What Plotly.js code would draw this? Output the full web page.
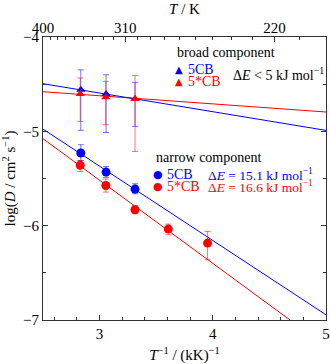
<!DOCTYPE html>
<html>
<head>
<meta charset="utf-8">
<script src="https://cdn.plot.ly/plotly-3.0.1.min.js"></script>
<style>html,body{margin:0;padding:0;background:#fff;}#chart{width:330px;height:364px;}</style>
</head>
<body>
<div id="chart"></div>
<script>
// ---- data ----
const broadX5CB = [2.834, 3.057, 3.313];
const broadY5CB = [-4.559, -4.605, -4.657];
const broadPlus5CB = [0.21, 0.205, 0.176];
const broadMinus5CB = [0.43, 0.407, 0.29];

const broadX5sCB = [2.829, 3.055, 3.313];
const broadY5sCB = [-4.605, -4.64, -4.657];
const broadPlus5sCB = [0.17, 0.17, 0.25];
const broadMinus5sCB = [0.29, 0.29, 0.556];

const narrowX5CB = [2.834, 3.057, 3.313];
const narrowY5CB = [-5.23, -5.432, -5.612];
const narrowPlus5CB = [0.088, 0.06, 0.056];
const narrowMinus5CB = [0.079, 0.057, 0.05];

const narrowX5sCB = [2.829, 3.055, 3.313, 3.607, 3.954];
const narrowY5sCB = [-5.36, -5.574, -5.831, -6.036, -6.185];
const narrowPlus5sCB = [0.051, 0.068, 0.045, 0.053, 0.124];
const narrowMinus5sCB = [0.065, 0.07, 0.043, 0.06, 0.177];

// fit lines (end values at x = 2.5 and x = 5)
const fitX = [2.5, 5];
const fitBroad5CB = [-4.495, -4.99];
const fitBroad5sCB = [-4.58, -4.795];
const fitNarrow5CB = [-4.976, -6.945];
const fitNarrow5sCB = [-5.078, -7.28];

// top temperature axis
const topTickK = [400, 310, 220];
const topMinorK = [390,380,370,360,350,340,330,320,300,290,280,270,260,250,240,230,210,200];

const BLUE = 'rgb(0,0,255)';
const RED = 'rgb(255,0,0)';
const BLUE_ERR = 'rgba(0,0,255,0.55)';
const RED_ERR = 'rgba(255,0,0,0.55)';
const FONT = 'Liberation Serif, Times New Roman, serif';

function line(x, y, c) {
  return {x: x, y: y, mode: 'lines', type: 'scatter', line: {color: c, width: 1}, showlegend: false, hoverinfo: 'skip'};
}
function pts(x, y, p, m, c, ec, sym, sz) {
  return {x: x, y: y, mode: 'markers', type: 'scatter', showlegend: false,
    marker: {symbol: sym, size: sz, color: c},
    error_y: {type: 'data', symmetric: false, array: p, arrayminus: m, color: ec, thickness: 1, width: 3}};
}

const traces = [
  line(fitX, fitBroad5sCB, RED),
  line(fitX, fitBroad5CB, BLUE),
  line(fitX, fitNarrow5sCB, RED),
  line(fitX, fitNarrow5CB, BLUE),
  pts(broadX5CB, broadY5CB, broadPlus5CB, broadMinus5CB, BLUE, BLUE_ERR, 'triangle-up', 8),
  pts(broadX5sCB, broadY5sCB, broadPlus5sCB, broadMinus5sCB, RED, RED_ERR, 'triangle-up', 8),
  pts(narrowX5CB, narrowY5CB, narrowPlus5CB, narrowMinus5CB, BLUE, BLUE_ERR, 'circle', 9),
  pts(narrowX5sCB, narrowY5sCB, narrowPlus5sCB, narrowMinus5sCB, RED, RED_ERR, 'circle', 9),
  {x: [2.5, 5], y: [-4, -4], xaxis: 'x2', yaxis: 'y', mode: 'markers', marker: {opacity: 0}, showlegend: false, hoverinfo: 'skip'}
];

const L = 43, R = 326, T = 37, B = 320;
function px(x) { return (x - L) / (R - L); }
function py(y) { return (B - y) / (B - T); }

function ann(text, x, y, color, size, xa) {
  return {text: text, x: px(x), y: py(y), xref: 'paper', yref: 'paper', showarrow: false,
    xanchor: xa || 'left', yanchor: 'middle', font: {family: FONT, size: size || 14, color: color || '#000'}};
}
function sym(ch, x, y, color, size) {
  return {text: ch, x: px(x), y: py(y), xref: 'paper', yref: 'paper', showarrow: false,
    xanchor: 'center', yanchor: 'middle', font: {family: 'DejaVu Sans', size: size, color: color}};
}

const layout = {
  width: 330, height: 364,
  margin: {l: L, r: 330 - R, t: T, b: 364 - B, pad: 0},
  paper_bgcolor: '#fff', plot_bgcolor: '#fff',
  font: {family: FONT, size: 15, color: '#000'},
  showlegend: false,
  xaxis: {
    range: [2.5, 5], tickmode: 'linear', tick0: 3, dtick: 1,
    ticks: 'inside', ticklen: 5, tickcolor: '#333', tickwidth: 1,
    showline: true, linecolor: '#333', linewidth: 1, mirror: true,
    showgrid: false, zeroline: false,
    minor: {tick0: 3, dtick: 0.2, ticks: 'inside', ticklen: 3, tickcolor: '#333', showgrid: false},
    tickfont: {family: FONT, size: 15},
    title: {text: '<i>T</i><sup>−1</sup> / (kK)<sup>−1</sup>', font: {family: FONT, size: 15}, standoff: 10}
  },
  xaxis2: {
    overlaying: 'x', side: 'top', range: [2.5, 5],
    tickmode: 'array', tickvals: topTickK.map(t => 1000 / t), ticktext: topTickK.map(String),
    ticks: 'inside', ticklen: 5, tickcolor: '#333', tickwidth: 1,
    showline: false, showgrid: false, zeroline: false,
    minor: {tickmode: 'array', tickvals: topMinorK.map(t => 1000 / t), ticks: 'inside', ticklen: 3, tickcolor: '#333', showgrid: false},
    tickfont: {family: FONT, size: 15},
    title: {text: '<i>T</i> / K', font: {family: FONT, size: 15}, standoff: 1}
  },
  yaxis: {
    range: [-7, -4], tickmode: 'linear', tick0: -7, dtick: 1,
    ticks: 'inside', ticklen: 5, tickcolor: '#333', tickwidth: 1,
    showline: true, linecolor: '#333', linewidth: 1, mirror: 'ticks',
    showgrid: false, zeroline: false,
    minor: {tick0: -7, dtick: 0.5, ticks: 'inside', ticklen: 3, tickcolor: '#333', showgrid: false},
    tickfont: {family: FONT, size: 15},
    title: {text: 'log(<i>D</i> / cm<sup>2</sup> s<sup>−1</sup>)', font: {family: FONT, size: 15}, standoff: 3}
  },
  annotations: [
    ann('broad component', 175, 53),
    sym('▲', 179, 69, BLUE, 10),
    ann('5CB', 186, 69, BLUE),
    sym('▲', 179, 81, RED, 10),
    ann('5*CB', 186, 81, RED),
    ann('Δ<i>E</i> < 5 kJ mol<sup>−1</sup>', 231, 74),
    ann('narrow component', 154, 157),
    sym('●', 158, 174, BLUE, 11),
    ann('5CB', 165, 174, BLUE),
    ann('Δ<i>E</i> = 15.1 kJ mol<sup>−1</sup>', 206, 174, BLUE, 13.5),
    sym('●', 158, 186, RED, 11),
    ann('5*CB', 165, 186, RED),
    ann('Δ<i>E</i> = 16.6 kJ mol<sup>−1</sup>', 206, 186, RED, 13.5)
  ]
};

Plotly.newPlot('chart', traces, layout, {displayModeBar: false, staticPlot: true});
</script>
</body>
</html>
